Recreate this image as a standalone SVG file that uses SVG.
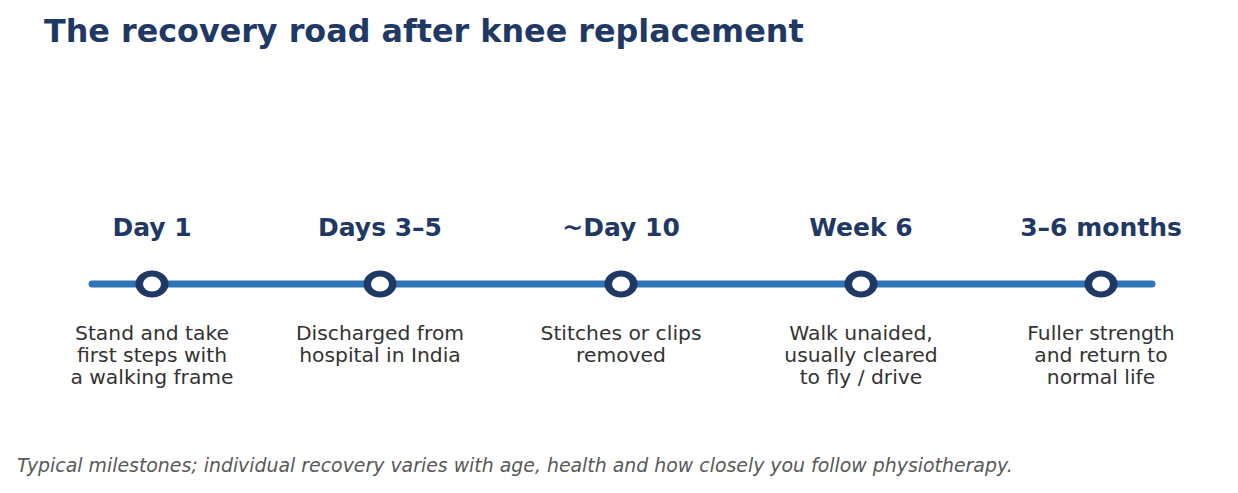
<svg xmlns="http://www.w3.org/2000/svg" width="1238" height="493" viewBox="0 0 1238 493">
<style>
text{font-family:"DejaVu Sans","Liberation Sans",sans-serif}
.title{font-size:31.8px;font-weight:bold;fill:#1F3864}
.lab{font-size:25px;font-weight:bold;fill:#1F3864;text-anchor:middle}
.desc{font-size:20.3px;fill:#333333;text-anchor:middle}
.note{font-size:18.9px;font-style:italic;fill:#595959}
.outer{fill:#1F3864}
.inner{fill:#ffffff}
</style>
<rect width="1238" height="493" fill="#ffffff"/>
<text class="title" x="44" y="42">The recovery road after knee replacement</text>
<g id="connectors">
<line x1="92" y1="284" x2="1152" y2="284" stroke="#2E75B6" stroke-width="7" stroke-linecap="round"/>
</g>
<g id="n1">
<text class="lab" x="152" y="236">Day 1</text>
<ellipse class="outer" cx="152" cy="284" rx="16.5" ry="13.5"/><ellipse class="inner" cx="152" cy="284" rx="9" ry="7.5"/>
<text class="desc" x="152" y="340">Stand and take</text>
<text class="desc" x="152" y="362">first steps with</text>
<text class="desc" x="152" y="384">a walking frame</text>
</g>
<g id="n2">
<text class="lab" x="380" y="236">Days 3–5</text>
<ellipse class="outer" cx="380" cy="284" rx="16.5" ry="13.5"/><ellipse class="inner" cx="380" cy="284" rx="9" ry="7.5"/>
<text class="desc" x="380" y="340">Discharged from</text>
<text class="desc" x="380" y="362">hospital in India</text>
</g>
<g id="n3">
<text class="lab" x="621" y="236">~Day 10</text>
<ellipse class="outer" cx="621" cy="284" rx="16.5" ry="13.5"/><ellipse class="inner" cx="621" cy="284" rx="9" ry="7.5"/>
<text class="desc" x="621" y="340">Stitches or clips</text>
<text class="desc" x="621" y="362">removed</text>
</g>
<g id="n4">
<text class="lab" x="861" y="236">Week 6</text>
<ellipse class="outer" cx="861" cy="284" rx="16.5" ry="13.5"/><ellipse class="inner" cx="861" cy="284" rx="9" ry="7.5"/>
<text class="desc" x="861" y="340">Walk unaided,</text>
<text class="desc" x="861" y="362">usually cleared</text>
<text class="desc" x="861" y="384">to fly / drive</text>
</g>
<g id="n5">
<text class="lab" x="1101" y="236">3–6 months</text>
<ellipse class="outer" cx="1101" cy="284" rx="16.5" ry="13.5"/><ellipse class="inner" cx="1101" cy="284" rx="9" ry="7.5"/>
<text class="desc" x="1101" y="340">Fuller strength</text>
<text class="desc" x="1101" y="362">and return to</text>
<text class="desc" x="1101" y="384">normal life</text>
</g>
<text class="note" x="17" y="472">Typical milestones; individual recovery varies with age, health and how closely you follow physiotherapy.</text>
</svg>
